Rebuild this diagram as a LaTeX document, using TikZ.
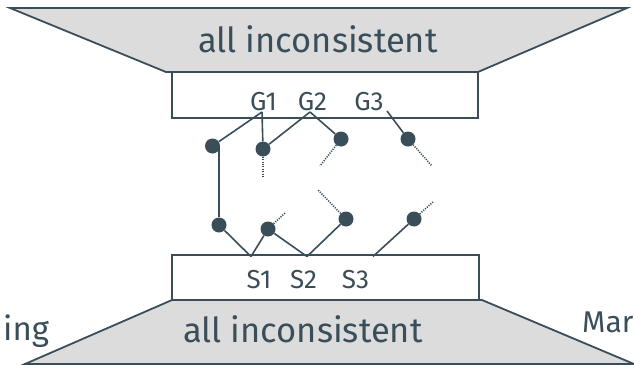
\documentclass[tikz,border=0pt]{standalone}
\usepackage{fontspec}
\setmainfont{Fira Sans}
\definecolor{ink}{RGB}{58,78,90}
\definecolor{fillg}{RGB}{220,220,220}
\begin{document}
\begin{tikzpicture}[x=1pt,y=-1pt,
  trap/.style={fill=fillg,draw=ink,line width=1.8pt,line join=miter},
  box/.style={fill=white,draw=ink,line width=1.8pt},
  dotn/.style={circle,fill=ink,inner sep=0pt,minimum size=15pt},
  link/.style={draw=ink,line width=1.6pt},
  loose/.style={draw=ink,line width=1.6pt,dash pattern=on 1.1pt off 1.3pt},
  lbl/.style={text=ink,font=\fontsize{26}{26}\selectfont,inner sep=0pt,anchor=base},
  big/.style={text=ink,font=\fontsize{34.5}{34.5}\selectfont,inner sep=0pt,anchor=base west}]
\useasboundingbox (0,0) rectangle (634,364);
% trapezoids
\path[trap] (10,8) -- (627,8) -- (478,72) -- (166,72) -- cycle;
\path[trap] (172,300) -- (482,300) -- (634,364) -- (25,364) -- cycle;
\node[big] (topt) at (198,52) {all inconsistent};
\node[big] (bott) at (183,342) {all inconsistent};
\node[text=ink,font=\fontsize{33}{33}\selectfont,inner sep=0pt,anchor=base west] (ing) at (3,340) {ing};
\node[text=ink,font=\fontsize{30}{30}\selectfont,inner sep=0pt,anchor=base west] (mar) at (582,332) {Mar};
% boxes
\path[box] (172,72) rectangle (478,118);
\path[box] (172,255) rectangle (479,300);
\node[lbl] (G1) at (263.5,110) {G1};
\node[lbl] (G2) at (312.5,110) {G2};
\node[lbl] (G3) at (369,110) {G3};
\node[lbl] (S1) at (259,288) {S1};
\node[lbl] (S2) at (303.5,288) {S2};
\node[lbl] (S3) at (355.5,288) {S3};
% attachment points
\coordinate (g1) at (262,112);
\coordinate (g2) at (310,112);
\coordinate (g3) at (387,111);
\coordinate (s1) at (251,256.5);
\coordinate (s2) at (307,256.5);
\coordinate (s3) at (373,256.5);
% dots
\node[dotn] (d1) at (212.5,146) {};
\node[dotn] (d2) at (263,149) {};
\node[dotn] (d3) at (341,139) {};
\node[dotn] (d4) at (408,139) {};
\node[dotn] (e1) at (219,225) {};
\node[dotn] (e2) at (268,229) {};
\node[dotn] (e3) at (346,219) {};
\node[dotn] (e4) at (414,219) {};
% free ends
\coordinate (p2) at (263,178);
\coordinate (p3) at (320,166);
\coordinate (p4) at (432,166);
\coordinate (q2) at (285,213);
\coordinate (q3) at (318,190);
\coordinate (q4) at (433,202);
% solid links
\draw[link] (g1) -- (d1);
\draw[link] (g1) -- (d2);
\draw[link] (g2) -- (d2);
\draw[link] (g2) -- (d3);
\draw[link] (g3) -- (d4);
\draw[link] (e1) -- (e1 |- d1);
\draw[link] (e1) -- (s1);
\draw[link] (e2) -- (s1);
\draw[link] (e2) -- (s2);
\draw[link] (e3) -- (s2);
\draw[link] (e4) -- (s3);
% dotted links
\draw[loose] (d2) -- (p2);
\draw[loose] (d3) -- (p3);
\draw[loose] (d4) -- (p4);
\draw[loose] (e2) -- (q2);
\draw[loose] (e3) -- (q3);
\draw[loose] (e4) -- (q4);
\end{tikzpicture}
\end{document}
